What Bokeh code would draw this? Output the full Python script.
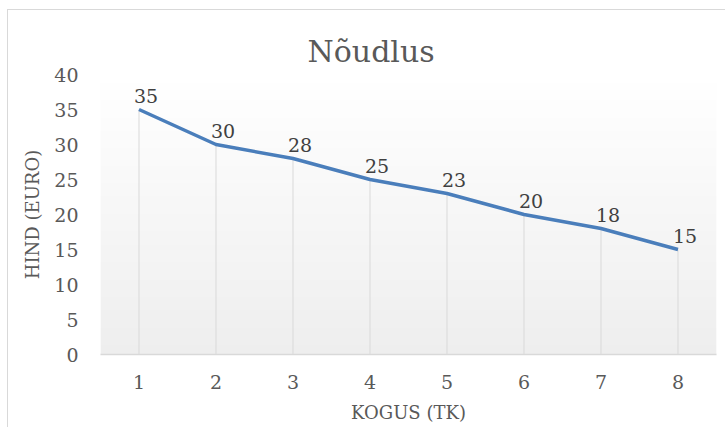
import numpy as np
from bokeh.plotting import figure
from bokeh.models import Range1d, FixedTicker, ColumnDataSource
from bokeh.embed import file_html
from bokeh.resources import INLINE
from bokeh.core.properties import value

# ---- data ----
kogus = [1, 2, 3, 4, 5, 6, 7, 8]
hind = [35, 30, 28, 25, 23, 20, 18, 15]
hind_labels = ["35", "30", "28", "25", "23", "20", "18", "15"]
y_ticks = [0, 5, 10, 15, 20, 25, 30, 35, 40]

title_text = "Nõudlus"
x_title = "KOGUS (TK)"
y_title = "HIND (EURO)"

FONT = "DejaVu Serif"
TXT = "#595959"

x0, x1 = 0.5, 8.5
y0, y1 = 0, 40

p = figure(width=718, height=418, output_backend="svg", toolbar_location=None,
           x_range=Range1d(x0, x1), y_range=Range1d(y0, y1),
           min_border_left=92, min_border_right=10, min_border_top=64, min_border_bottom=74)
p.styles = {"margin-left": "7px", "margin-top": "9px",
            "border-left": "1px solid #d9d9d9", "border-top": "1px solid #d9d9d9"}

p.outline_line_color = None
p.background_fill_color = "white"
p.border_fill_color = "white"
p.xgrid.visible = False
p.ygrid.visible = False

# gradient background of plot area
n = 64
img = np.zeros((n, 1), dtype=np.uint32)
view = img.view(dtype=np.uint8).reshape((n, 1, 4))
for i in range(n):
    t = i / (n - 1)  # 0 bottom, 1 top
    c = int(round(238 + (255 - 238) * t))
    view[i, 0, 0] = c
    view[i, 0, 1] = c
    view[i, 0, 2] = c
    view[i, 0, 3] = 255
p.image_rgba(image=[img], x=x0, y=y0, dw=x1 - x0, dh=y1 - y0)

src = ColumnDataSource(dict(x=kogus, y=hind, lab=hind_labels, base=[0] * len(kogus)))

# drop lines
p.segment(x0="x", y0="base", x1="x", y1="y", source=src, line_color="#d9d9d9", line_width=1)

# main line
p.line("x", "y", source=src, line_color="#4a7ebb", line_width=3.5, line_join="round")

# data labels
p.text("x", "y", text="lab", source=src, text_font=value(FONT), text_font_size="19px",
       text_color="#404040", text_align="center", text_baseline="bottom",
       x_offset=7, y_offset=-7)

# title
p.title.text = title_text
p.title.text_font = FONT
p.title.text_font_size = "30px"
p.title.text_font_style = "normal"
p.title.text_color = TXT
p.title.align = "left"
p.title.offset = 207
p.title.standoff = 11

# x axis
p.xaxis.ticker = FixedTicker(ticks=kogus)
p.xaxis.axis_label = x_title
p.xaxis.axis_line_color = "#d9d9d9"
p.xaxis.axis_line_width = 1.5
p.xaxis.major_tick_line_color = None
p.xaxis.minor_tick_line_color = None
p.xaxis.major_tick_out = 0
p.xaxis.major_label_standoff = 20
p.xaxis.axis_label_standoff = 10
for ax in [p.xaxis, p.yaxis]:
    ax.major_label_text_font = FONT
    ax.major_label_text_font_size = "19px"
    ax.major_label_text_color = TXT
    ax.axis_label_text_font = FONT
    ax.axis_label_text_font_size = "18px"
    ax.axis_label_text_font_style = "normal"
    ax.axis_label_text_color = TXT

# y axis
p.yaxis.ticker = FixedTicker(ticks=y_ticks)
p.yaxis.axis_label = y_title
p.yaxis.axis_line_color = None
p.yaxis.major_tick_line_color = None
p.yaxis.minor_tick_line_color = None
p.yaxis.major_tick_out = 0
p.yaxis.major_label_standoff = 22
p.yaxis.axis_label_standoff = 8

open("out.html", "w").write(file_html(p, INLINE))
